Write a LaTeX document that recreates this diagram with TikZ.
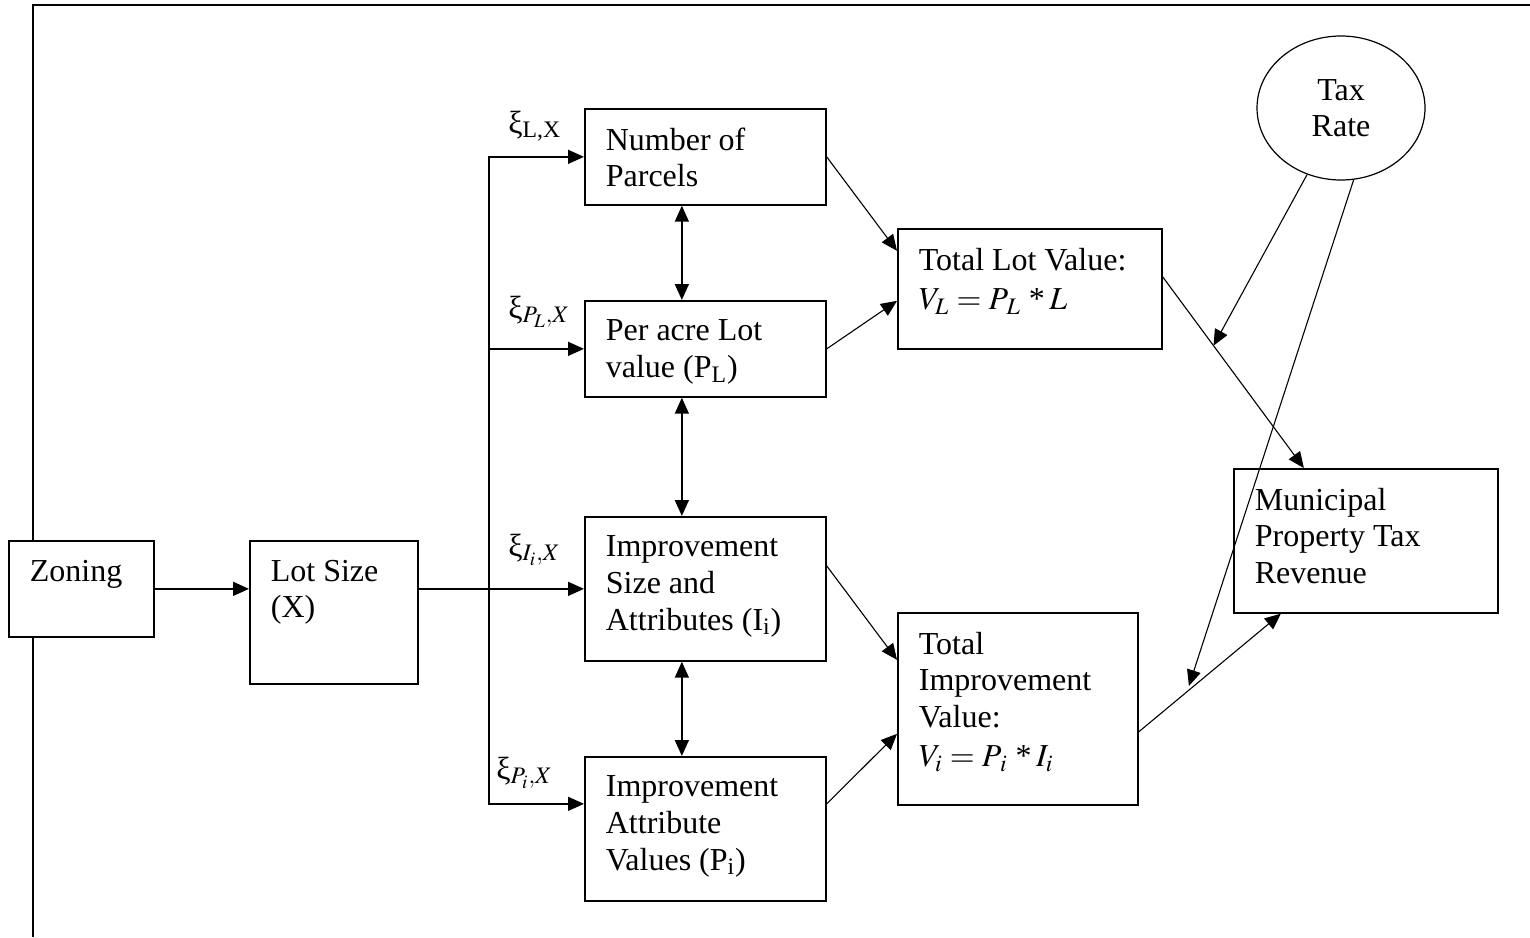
\documentclass[tikz,border=0pt]{standalone}
\usepackage{mathptmx}
\usepackage{fontspec}
\setmainfont{Liberation Serif}
\usetikzlibrary{arrows.meta,shapes.geometric}

% text set at the top left of a box of given width and height (pt)
\newcommand{\boxtext}[3]{\parbox[c][\dimexpr#2pt-19pt\relax][t]{\dimexpr#1pt-21pt\relax}{\raggedright #3}}
\newcommand{\mulstar}{\,\mathbin{\mbox{*}}}

\begin{document}
\begin{tikzpicture}[
	x=0.5pt, y=-0.5pt,
	font=\fontsize{16}{18.3}\selectfont,
	box/.style  = {draw, rectangle, line width=0.85pt, anchor=north west, inner xsep=10.5pt, inner ysep=9.5pt, fill=white},
	rate/.style = {draw, ellipse, line width=0.6pt, minimum width=84pt, minimum height=72pt, inner sep=0pt, align=center},
	xi/.style   = {anchor=base west, inner sep=0pt},
	link/.style = {->, line width=0.8pt},
	thin link/.style = {->, line width=0.55pt},
	>={Triangle[length=8pt,width=7pt]}]
	
	\useasboundingbox (0,0) rectangle (1530,937);
	
	% outer frame, only its top and left edges show
	\draw[line width=1.15pt] (33,937) -- (33,5) -- (1530,5);
	
	% boxes, placed by their top left corners
	\node[box] (zoning)  at (8,540)    {\boxtext{72.5}{48}{Zoning}};
	\node[box] (lotsize) at (249,540)  {\boxtext{84}{71.5}{Lot Size\\(X)}};
	\node[box] (parcels) at (584,108)  {\boxtext{120.5}{48}{Number of\\Parcels}};
	\node[box] (peracre) at (584,300)  {\boxtext{120.5}{48}{Per acre Lot\\value (P\textsubscript{L})}};
	\node[box] (impsize) at (584,516)  {\boxtext{120.5}{72}{Improvement\\Size and\\Attributes (I\textsubscript{i})}};
	\node[box] (attrval) at (584,756)  {\boxtext{120.5}{72}{Improvement\\Attribute\\Values (P\textsubscript{i})}};
	\node[box] (totlot)  at (897,228)  {\boxtext{132}{60}{Total Lot Value:\\[1.5pt]$V_L = P_{\,L} \mulstar L$}};
	\node[box] (totimp)  at (897,612)  {\boxtext{120}{96}{Total\\Improvement\\Value:\\[1.5pt]$V_i = P_{\,i} \mulstar I_i$}};
	\node[box] (muni)    at (1233,468) {\boxtext{132}{72}{Municipal\\Property Tax\\Revenue}};
	\node[rate] (tax)    at (1341,108) {Tax\\Rate};
	
	% elasticities on the bus
	\node[xi] (xilx) at (508,133) {ξ\textsubscript{L,X}};
	\node[xi] (xipl) at (508,318) {ξ$_{P_L,X}$};
	\node[xi] (xiii) at (508,556) {ξ$_{I_i,X}$};
	\node[xi] (xipi) at (496,779) {ξ$_{P_i,X}$};
	
	% zoning and lot size, then the bus to the four boxes
	\coordinate (bus) at (489,588);
	\draw[link] (zoning.east) -- (zoning.east -| lotsize.west);
	\draw[link] (lotsize.east |- impsize.west) -- (impsize.west);
	\draw[link] (bus) |- (parcels.west);
	\draw[link] (bus) |- (peracre.west);
	\draw[link] (bus) |- ([yshift=12.5pt]attrval.west);
	
	\foreach \a/\b in {parcels/peracre, peracre/impsize, impsize/attrval}
	\draw[link, <->] ([xshift=-11.75pt]\a.south) -- ([xshift=-11.75pt]\b.north);
	
	% into the two totals
	\draw[thin link] (parcels.east) -- ([yshift=19pt]totlot.west);
	\draw[thin link] (peracre.east) -- ([yshift=-6pt]totlot.west);
	\draw[thin link] ([yshift=11.5pt]impsize.east) -- ([yshift=24.5pt]totimp.west);
	\draw[thin link] ([yshift=12.5pt]attrval.east) -- ([yshift=-12.5pt]totimp.west);
	
	% totals to revenue, tax rate onto those lines
	\draw[thin link] ([yshift=6pt]totlot.east) -- coordinate[pos=0.36] (lotcut) ([xshift=-31pt]muni.north);
	\draw[thin link] ([yshift=-11.5pt]totimp.east) -- coordinate[pos=0.34] (impcut) ([xshift=-42.5pt]muni.south);
	\draw[thin link] (tax.243) -- (lotcut);
	\draw[thin link, shorten >=3pt] (tax.280) -- (impcut);
\end{tikzpicture}
\end{document}
